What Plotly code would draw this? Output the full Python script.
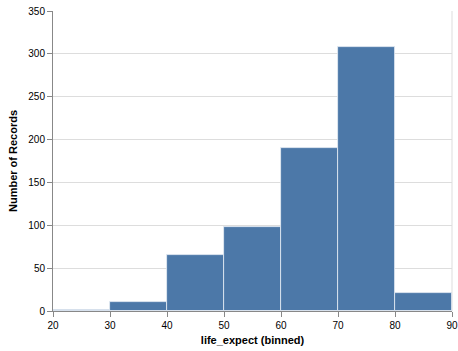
import plotly.graph_objects as go

bin_starts = [20, 30, 40, 50, 60, 70, 80]
bin_width = 10
counts = [1, 11, 65, 98, 190, 308, 21]
x_ticks = [20, 30, 40, 50, 60, 70, 80, 90]
y_ticks = [0, 50, 100, 150, 200, 250, 300, 350]

centers = [s + bin_width / 2 for s in bin_starts]

fig = go.Figure(go.Bar(
    x=centers, y=counts, width=[bin_width] * len(centers),
    marker=dict(color="#4c78a8", line=dict(color="#e8eef5", width=0.8)),
))

font_family = "Liberation Sans, Arial, sans-serif"
fig.update_layout(
    width=458, height=351,
    margin=dict(l=52.5, r=6, t=11, b=40, autoexpand=False),
    plot_bgcolor="white", paper_bgcolor="white",
    font=dict(family=font_family, size=10, color="black"),
    showlegend=False,
    bargap=0,
    xaxis=dict(
        range=[20, 90], tickvals=x_ticks, showgrid=False, automargin=False,
        showline=True, linecolor="#888", linewidth=1,
        ticks="outside", ticklen=5, tickcolor="#888",
        tickfont=dict(size=10, color="black"),
        title=dict(text="<b>life_expect (binned)</b>", font=dict(size=11), standoff=6),
        zeroline=False,
    ),
    yaxis=dict(
        range=[0, 350], tickvals=y_ticks, showgrid=True, gridcolor="#ddd",
        showline=True, linecolor="#888", linewidth=1, automargin=False,
        ticks="outside", ticklen=5, tickcolor="#888",
        tickfont=dict(size=10, color="black"),
        title=dict(text="<b>Number of Records</b>", font=dict(size=11), standoff=8),
        zeroline=False,
    ),
    shapes=[dict(type="line", xref="paper", yref="paper", x0=1, x1=1, y0=0, y1=1,
                 line=dict(color="#ddd", width=1), layer="below")],
)

fig.write_html("out.html")
